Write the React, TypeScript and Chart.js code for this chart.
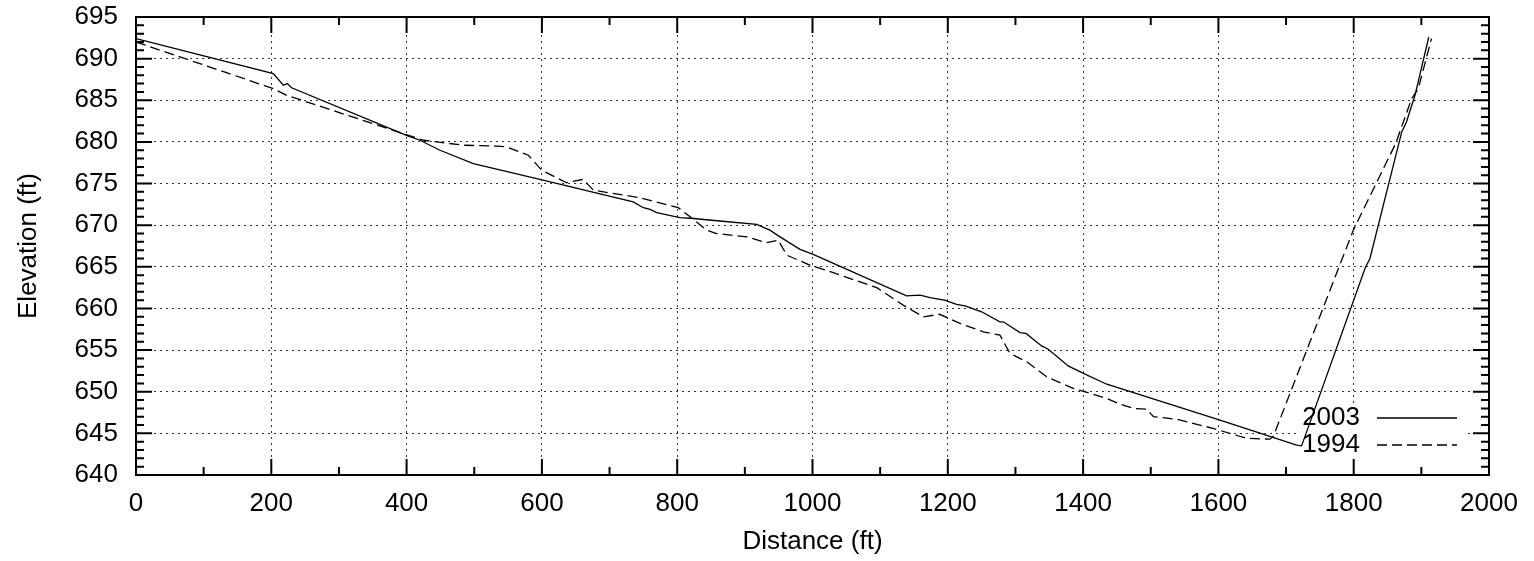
import React, { useEffect, useRef } from "react";
import { Chart, registerables } from "chart.js";

Chart.register(...registerables);

// ---- data ----
const dist2003 = [0, 203, 217.8, 223.7, 230, 402.5, 419.8, 449.4, 498.6, 597, 735, 750, 760, 769.7, 804, 823.8, 863, 917.5, 937, 952, 981.5, 1001, 1139, 1159, 1173.7, 1195, 1213, 1225.5, 1250, 1277, 1282, 1306.7, 1315.6, 1338.7, 1348.5, 1378, 1400.4, 1435, 1602.4, 1715.7, 1723, 1816.7, 1824, 1871, 1878, 1890.6, 1911];
const elev2003 = [692.4, 688.2, 686.8, 687.0, 686.5, 680.7, 680.2, 679.0, 677.4, 675.5, 672.8, 672.1, 671.9, 671.5, 670.9, 670.8, 670.5, 670.1, 669.4, 668.6, 667.1, 666.5, 661.5, 661.6, 661.3, 661.0, 660.5, 660.3, 659.6, 658.4, 658.4, 657.1, 657.0, 655.5, 655.1, 653.1, 652.2, 650.9, 646.6, 643.6, 643.5, 664.8, 666.0, 681.2, 682.4, 685.6, 692.6];

const dist1994 = [0, 203, 222.7, 395, 424.7, 484, 533, 548, 580, 599.7, 636.6, 661, 676, 745, 801.6, 819, 843.6, 858, 902.7, 932, 949.5, 962, 996, 1016, 1095, 1134, 1164, 1188, 1218, 1252.5, 1277, 1292, 1316.6, 1346, 1385.5, 1435, 1455, 1474, 1494, 1504, 1538, 1558, 1592, 1642, 1676, 1681, 1799.4, 1862, 1885.7, 1895.5, 1915];
const elev1994 = [692.0, 686.4, 685.6, 681.0, 680.2, 679.6, 679.5, 679.4, 678.4, 676.6, 675.1, 675.5, 674.2, 673.3, 672.1, 671.0, 669.4, 669.0, 668.6, 667.9, 668.2, 666.4, 665.2, 664.7, 662.5, 660.4, 659.0, 659.3, 658.2, 657.2, 656.8, 654.6, 653.6, 651.8, 650.4, 649.2, 648.5, 648.0, 647.9, 647.0, 646.7, 646.3, 645.6, 644.4, 644.3, 644.6, 669.4, 679.8, 685.2, 686.4, 692.4];

const seriesLabels = ["2003", "1994"];
const xTitle = "Distance (ft)";
const yTitle = "Elevation (ft)";

const FONT_FAMILY = "'Liberation Sans', Arial, Helvetica, sans-serif";
const FONT_SIZE = 26;
const DASH = [10, 5];

const toPoints = (xs: number[], ys: number[]) => xs.map((x, i) => ({ x, y: ys[i] }));

const framePlugin = {
  id: "gnuplotFrame",
  beforeDatasetsDraw(chart: any) {
    const ctx = chart.ctx;
    ctx.save();
    ctx.fillStyle = "#fff";
    ctx.fillRect(1296, 406, 170, 54);
    ctx.restore();
  },
  afterDatasetsDraw(chart: any) {
    const ctx = chart.ctx;
    ctx.save();
    ctx.font = `${FONT_SIZE}px ${FONT_FAMILY}`;
    ctx.fillStyle = "#000";
    ctx.textAlign = "right";
    ctx.textBaseline = "middle";
    const rows = [418, 445];
    seriesLabels.forEach((lab, i) => {
      ctx.fillText(lab, 1360, rows[i]);
      ctx.beginPath();
      ctx.lineWidth = 1.3;
      ctx.strokeStyle = "#000";
      ctx.setLineDash(i === 1 ? DASH : []);
      ctx.moveTo(1377, rows[i]);
      ctx.lineTo(1457, rows[i]);
      ctx.stroke();
    });
    ctx.setLineDash([]);
    ctx.restore();
  },
  afterDraw(chart: any) {
    const ctx = chart.ctx;
    const { left, right, top, bottom } = chart.chartArea;
    const xs = chart.scales.x;
    const ys = chart.scales.y;
    ctx.save();
    ctx.strokeStyle = "#000";
    ctx.lineWidth = 2;
    ctx.setLineDash([]);
    ctx.beginPath();
    for (let v = xs.min; v <= xs.max; v += 100) {
      const p = xs.getPixelForValue(v);
      const len = v % 200 === 0 ? 16 : 8;
      ctx.moveTo(p, bottom);
      ctx.lineTo(p, bottom - len);
      ctx.moveTo(p, top);
      ctx.lineTo(p, top + len);
    }
    for (let v = ys.min; v <= ys.max; v += 1) {
      const p = ys.getPixelForValue(v);
      const len = v % 5 === 0 ? 16 : 8;
      ctx.moveTo(left, p);
      ctx.lineTo(left + len, p);
      ctx.moveTo(right, p);
      ctx.lineTo(right - len, p);
    }
    ctx.stroke();
    ctx.strokeRect(left, top, right - left, bottom - top);
    ctx.restore();
  },
};

export default function App() {
  const ref = useRef<HTMLCanvasElement | null>(null);
  useEffect(() => {
    document.body.style.margin = "0";
    const canvas = ref.current;
    if (!canvas) return;
    const font = { family: FONT_FAMILY, size: FONT_SIZE };
    const plain = (v: any) => String(v);
    const chart = new Chart(canvas, {
      type: "scatter",
      data: {
        datasets: [
          {
            label: seriesLabels[0],
            data: toPoints(dist2003, elev2003),
            showLine: true,
            borderColor: "#000",
            borderWidth: 1.3,
            pointRadius: 0,
            tension: 0,
          },
          {
            label: seriesLabels[1],
            data: toPoints(dist1994, elev1994),
            showLine: true,
            borderColor: "#000",
            borderWidth: 1.3,
            borderDash: DASH,
            pointRadius: 0,
            tension: 0,
          },
        ],
      },
      options: {
        animation: false,
        responsive: false,
        maintainAspectRatio: false,
        layout: { padding: { top: 17, right: 45, left: 0, bottom: 0 } },
        plugins: { legend: { display: false }, tooltip: { enabled: false } },
        scales: {
          x: {
            type: "linear",
            min: 0,
            max: 2000,
            ticks: { stepSize: 200, padding: 13, font, color: "#000", maxRotation: 0, autoSkip: false, callback: plain },
            grid: { color: "rgba(0,0,0,0.8)", lineWidth: 1, drawTicks: false },
            border: { display: false, dash: [2, 4] },
            title: { display: true, text: xTitle, font, color: "#000", padding: { top: 0, bottom: 4 } },
            afterFit(s: any) {
              s.height = 86;
              s.paddingLeft = 0;
              s.paddingRight = 0;
            },
          },
          y: {
            type: "linear",
            min: 640,
            max: 695,
            ticks: { stepSize: 5, padding: 18, font, color: "#000", autoSkip: false, callback: plain },
            grid: { color: "rgba(0,0,0,0.8)", lineWidth: 1, drawTicks: false },
            border: { display: false, dash: [2, 4] },
            title: { display: true, text: yTitle, font, color: "#000", padding: { top: 13, bottom: 0 } },
            afterFit(s: any) {
              s.width = 136;
              s.paddingTop = 0;
              s.paddingBottom = 0;
            },
          },
        },
      },
      plugins: [framePlugin],
    } as any);
    return () => chart.destroy();
  }, []);
  return (
    <canvas ref={ref} width={1534} height={561} style={{ display: "block", width: 1534, height: 561 }} />
  );
}
